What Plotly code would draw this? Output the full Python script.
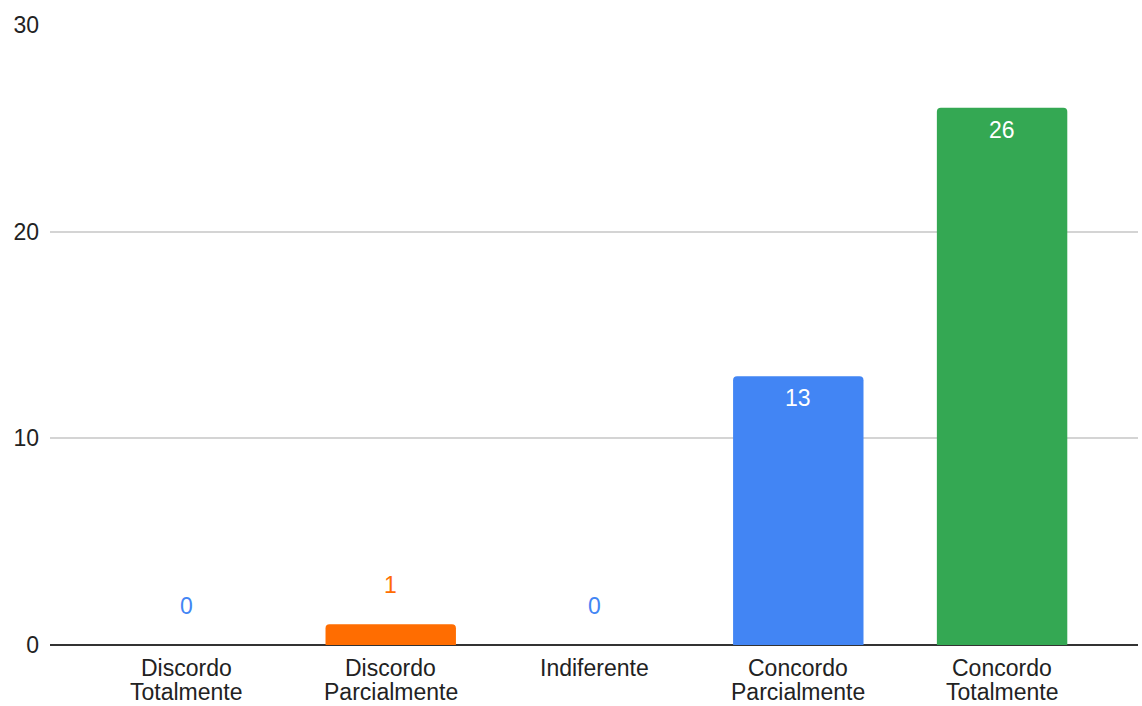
import plotly.graph_objects as go

# Survey answers and counts
categories = ["Discordo Totalmente", "Discordo Parcialmente", "Indiferente",
              "Concordo Parcialmente", "Concordo Totalmente"]
counts = [0, 1, 0, 13, 26]
bar_colors = ["#4285F4", "#FF6D01", "#4285F4", "#4285F4", "#34A853"]
y_ticks = [0, 10, 20, 30]

FONT = "Arial, Liberation Sans, Helvetica, sans-serif"
SIZE = 23
TEXT = "#222222"

fig = go.Figure(
    go.Bar(
        x=categories,
        y=counts,
        marker=dict(color=bar_colors, line=dict(width=0)),
        hoverinfo="skip",
    )
)

# Value labels: above short bars in the bar colour, inside tall bars in white
for cat, val, col in zip(categories, counts, bar_colors):
    inside = val >= 5
    fig.add_annotation(
        x=cat, y=val, text=str(val), showarrow=False,
        yshift=-22 if inside else 39,
        font=dict(family=FONT, size=SIZE, color="white" if inside else col),
    )

# Category labels, one annotation per line for tight line spacing
for cat in categories:
    for i, line in enumerate(cat.split(" ")):
        fig.add_annotation(
            x=cat, y=0, text=line, showarrow=False,
            yanchor="middle", yshift=-23 - 24 * i,
            font=dict(family=FONT, size=SIZE, color=TEXT),
        )

fig.update_layout(
    width=1142, height=706,
    margin=dict(l=50, r=4, t=25, b=61),
    paper_bgcolor="white", plot_bgcolor="white",
    bargap=0.36,
    barcornerradius=4,
    showlegend=False,
    font=dict(family=FONT, size=SIZE, color=TEXT),
)

fig.update_xaxes(
    type="category",
    range=[-0.672, 4.667],
    showgrid=False,
    showline=False,
    ticks="",
    showticklabels=False,
)

fig.update_yaxes(
    range=[0, 30],
    tickvals=y_ticks,
    showgrid=True, gridcolor="#d4d4d4", gridwidth=1.5,
    zeroline=True, zerolinecolor="#333333", zerolinewidth=2,
    showline=False,
    ticks="",
    tickfont=dict(family=FONT, size=SIZE, color=TEXT),
    ticklabelstandoff=10,
)

fig.write_html("out.html")
